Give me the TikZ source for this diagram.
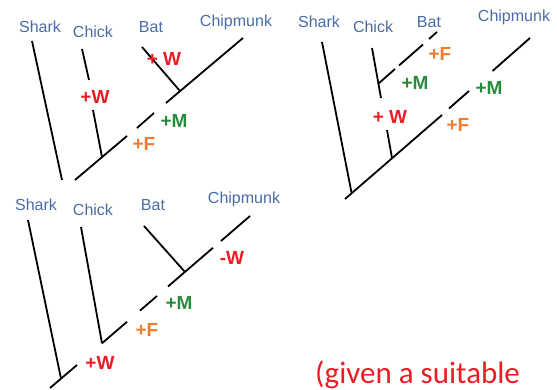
\documentclass[tikz,border=0pt]{standalone}
\usepackage{fontspec}
\setmainfont{Liberation Sans}
\newfontfamily\notefont{Carlito}
\usepackage{xcolor}
\definecolor{taxonblue}{RGB}{74,108,166}
\definecolor{traitred}{RGB}{235,28,36}
\definecolor{traitgreen}{RGB}{38,140,58}
\definecolor{traitorange}{RGB}{237,125,49}

\begin{document}
\begin{tikzpicture}[
    x=1pt, y=-1pt,
    taxon/.style={text=taxonblue, font=\fontsize{16}{19}\selectfont, inner sep=0pt},
    trait/.style={font=\fontsize{19}{22}\selectfont\bfseries, inner sep=0pt},
    note/.style={text=traitred, font=\notefont\fontsize{31}{36}\selectfont, inner sep=0pt, anchor=base west},
    branch/.style={line width=1.8pt}
]
  \useasboundingbox (0,0) rectangle (557,390);

  % Tree 1 (top left)
  \node (aShark) [taxon] at (40,27) {Shark};
  \node (aChick) [taxon] at (93,32) {Chick};
  \node (aBat) [taxon] at (151,27) {Bat};
  \node (aChip) [taxon] at (236,22) {Chipmunk};

  \coordinate (aSharkTop) at (32,41);
  \coordinate (aSharkEnd) at (62,180);
  \coordinate (aRoot) at (75,180);
  \coordinate (aF1) at (127,136);
  \coordinate (aF2) at (137,128);
  \coordinate (aM1) at (154,113);
  \coordinate (aM2) at (166,103);
  \coordinate (aTip) at (243,38);
  \coordinate (aChickTop) at (82,49);
  \coordinate (aW1) at (89,80);
  \coordinate (aW2) at (93,110);
  \coordinate (aChickJoin) at (102,157);
  \coordinate (aBatTop) at (142,47);
  \coordinate (aBatJoin) at (180,91);

  \draw [branch] (aSharkTop) -- (aSharkEnd);
  \draw [branch] (aRoot) -- (aF1);
  \draw [branch] (aF2) -- (aM1);
  \draw [branch] (aM2) -- (aTip);
  \draw [branch] (aChickTop) -- (aW1);
  \draw [branch] (aW2) -- (aChickJoin);
  \draw [branch] (aBatTop) -- (aBatJoin);

  \node (aWchick) [trait, text=traitred] at (95,97) {+W};
  \node (aWbat) [trait, text=traitred] at (164,59) {+ W};
  \node (aM) [trait, text=traitgreen] at (174,121) {+M};
  \node (aF) [trait, text=traitorange] at (144,144) {+F};

  % Tree 2 (top right)
  \node (bShark) [taxon] at (319,22) {Shark};
  \node (bChick) [taxon] at (373,27) {Chick};
  \node (bBat) [taxon] at (429,22) {Bat};
  \node (bChip) [taxon] at (514,17) {Chipmunk};

  \coordinate (bSharkTop) at (322,42);
  \coordinate (bSharkJoin) at (351.5,192.5);
  \coordinate (bRoot) at (345,199);
  \coordinate (bF1) at (442,115);
  \coordinate (bF2) at (449,108.5);
  \coordinate (bM1) at (469,91);
  \coordinate (bM2) at (492.5,71);
  \coordinate (bTip) at (530,38);
  \coordinate (bChickTop) at (372,48);
  \coordinate (bW1) at (381,98);
  \coordinate (bW2) at (387,130);
  \coordinate (bChickJoin) at (392,158);
  \coordinate (bBatJoin) at (378,84);
  \coordinate (bM3) at (395,69);
  \coordinate (bM4) at (399,65.5);
  \coordinate (bF3) at (423,44.5);
  \coordinate (bF4) at (429,39);
  \coordinate (bBatTop) at (437,32);

  \draw [branch] (bSharkTop) -- (bSharkJoin);
  \draw [branch] (bRoot) -- (bF1);
  \draw [branch] (bF2) -- (bM1);
  \draw [branch] (bM2) -- (bTip);
  \draw [branch] (bChickTop) -- (bW1);
  \draw [branch] (bW2) -- (bChickJoin);
  \draw [branch] (bBatJoin) -- (bM3);
  \draw [branch] (bM4) -- (bF3);
  \draw [branch] (bF4) -- (bBatTop);

  \node (bFbat) [trait, text=traitorange] at (440,54) {+F};
  \node (bMbat) [trait, text=traitgreen] at (415,83) {+M};
  \node (bW) [trait, text=traitred] at (390,117) {+ W};
  \node (bF) [trait, text=traitorange] at (458,125) {+F};
  \node (bM) [trait, text=traitgreen] at (489,88) {+M};

  % Tree 3 (bottom)
  \node (cShark) [taxon] at (36,205) {Shark};
  \node (cChick) [taxon] at (93,210) {Chick};
  \node (cBat) [taxon] at (153,205) {Bat};
  \node (cChip) [taxon] at (244,199) {Chipmunk};

  \coordinate (cSharkTop) at (28,220);
  \coordinate (cSharkJoin) at (61,378.5);
  \coordinate (cRoot) at (50,388);
  \coordinate (cW1) at (77,365);
  \coordinate (cChickJoin) at (102,343.3);
  \coordinate (cF1) at (127,321.8);
  \coordinate (cF2) at (140,310.6);
  \coordinate (cM1) at (157,296);
  \coordinate (cM2) at (168,286.5);
  \coordinate (cBatJoin) at (185,272);
  \coordinate (cW3) at (213,247.8);
  \coordinate (cW4) at (221,241);
  \coordinate (cTip) at (250,216);
  \coordinate (cChickTop) at (81,227);
  \coordinate (cBatTop) at (144,226);

  \draw [branch] (cSharkTop) -- (cSharkJoin);
  \draw [branch] (cRoot) -- (cW1);
  \draw [branch] (cChickJoin) -- (cF1);
  \draw [branch] (cF2) -- (cM1);
  \draw [branch] (cM2) -- (cW3);
  \draw [branch] (cW4) -- (cTip);
  \draw [branch] (cChickTop) -- (cChickJoin);
  \draw [branch] (cBatTop) -- (cBatJoin);

  \node (cW) [trait, text=traitred] at (100,363) {+W};
  \node (cF) [trait, text=traitorange] at (147,330) {+F};
  \node (cM) [trait, text=traitgreen] at (179,303) {+M};
  \node (cWloss) [trait, text=traitred] at (232,258) {-W};

  % Note
  \node (given) [note] at (315,383) {(given a suitable};
\end{tikzpicture}
\end{document}
